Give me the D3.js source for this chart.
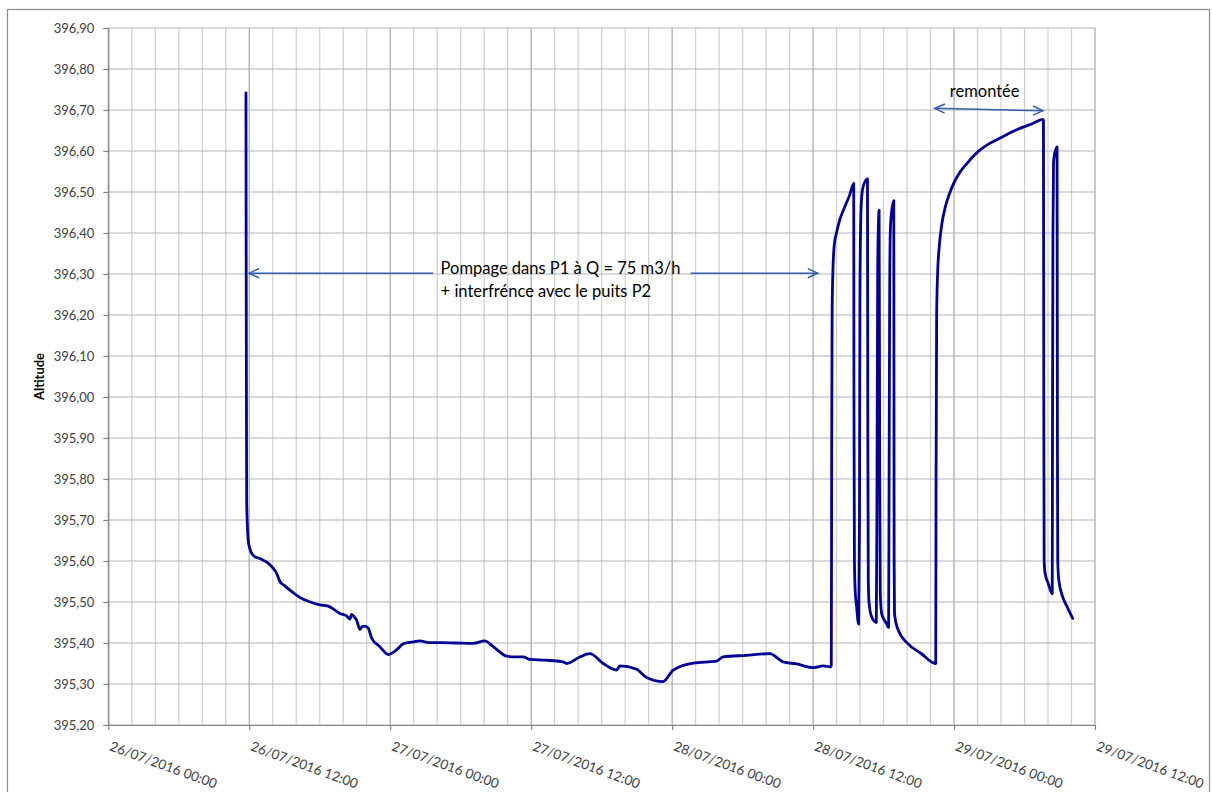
<!DOCTYPE html>
<html><head><meta charset="utf-8">
<script src="https://cdn.jsdelivr.net/npm/d3@7"></script>
<style>
html,body{margin:0;padding:0;background:#fff;}
svg{display:block;}
</style></head>
<body>
<svg id="chart" width="1212" height="792"></svg>
<script>
// ---- data (hours after 26/07/2016 00:00, altitude m) ----
const hours = [
 11.72,11.74,11.76,11.78,11.85,11.91,12.05,12.20,12.49,12.90,13.19,13.60,14.04,14.33,14.61,15.00,15.46,16.31,17.20,18.02,
 18.72,19.20,19.72,20.29,20.57,20.71,20.90,21.14,21.42,21.60,21.85,22.13,22.42,23.12,23.83,24.54,25.11,25.96,26.53,27.30,
 28.23,29.60,31.06,32.06,32.77,33.91,34.60,35.32,35.89,37.20,38.72,39.01,40.14,40.99,42.13,43.27,43.55,44.97,45.82,47.23,
 48.09,49.79,51.78,52.34,54.33,56.31,57.45,58.59,60.00,60.85,61.48,61.55,
 61.58,61.62,61.68,61.80,61.99,62.27,62.70,63.12,63.46,
 63.48,63.52,63.58,63.70,63.88,
 63.95,63.99,64.05,64.12,64.26,64.63,
 64.66,64.70,64.76,64.97,65.38,
 65.43,65.50,65.56,65.62,
 65.67,65.72,65.85,66.20,66.43,
 66.47,66.52,66.57,66.62,66.87,
 66.90,66.93,67.20,68.05,69.17,70.44,
 70.47,70.52,70.60,70.75,70.95,71.26,71.60,71.97,72.50,73.11,74.19,75.00,75.89,77.28,78.70,79.56,79.61,
 79.64,79.67,79.75,80.02,80.36,
 80.38,80.42,80.47,80.52,80.77,
 80.80,80.83,80.92,81.24,81.60,82.10
];
const altitude = [
 396.742,396.30,396.00,395.75,395.68,395.65,395.63,395.619,395.61,395.606,395.602,395.595,395.582,395.57,395.55,395.54,395.529,395.511,395.50,395.493,
 395.49,395.482,395.472,395.466,395.458,395.47,395.465,395.456,395.433,395.44,395.441,395.436,395.412,395.391,395.372,395.383,395.398,395.403,395.405,395.401,
 395.401,395.40,395.399,395.405,395.391,395.368,395.366,395.366,395.36,395.358,395.354,395.35,395.366,395.374,395.35,395.334,395.344,395.336,395.316,395.306,
 395.334,395.351,395.356,395.366,395.37,395.374,395.354,395.349,395.34,395.344,395.342,395.345,
 395.80,396.20,396.30,396.37,396.40,396.432,396.464,396.493,396.521,
 396.00,395.60,395.53,395.49,395.446,
 395.70,396.25,396.42,396.48,396.513,396.532,
 395.90,395.55,395.50,395.465,395.45,
 395.70,396.30,396.42,396.456,
 395.85,395.52,395.47,395.45,395.438,
 395.80,396.25,396.40,396.432,396.479,
 395.60,395.472,395.435,395.399,395.375,395.35,
 395.80,396.20,396.30,396.37,396.42,396.464,396.495,396.521,396.548,396.57,396.602,396.618,396.631,396.651,396.667,396.677,396.674,
 396.00,395.602,395.57,395.545,395.52,
 395.90,396.40,396.57,396.586,396.61,
 395.90,395.60,395.553,395.513,395.49,395.46
];

const xStart = "2016-07-26T00:00:00", xEnd = "2016-07-29T12:00:00";
const yTickValues = [395.20,395.30,395.40,395.50,395.60,395.70,395.80,395.90,396.00,396.10,396.20,396.30,396.40,396.50,396.60,396.70,396.80,396.90];
const yTitle = "Altitude";
const pumpLabel = ["Pompage dans P1 à Q = 75 m3/h", "+ interfrénce avec le puits P2"];
const recoveryLabel = "remontée";
// annotation anchors in data space: [hours, altitude]
const pumpArrowLeft = [[27.66, 396.302],[11.98, 396.302]];
const pumpArrowRight = [[49.57, 396.302],[60.40, 396.302]];
const pumpText = [28.29, 396.30];
const recoveryArrow = [[70.36, 396.704],[79.57, 396.698]];
const recoveryText = [74.61, 396.731];

// ---- layout ----
const svg = d3.select("#chart");
const pLeft = 108.3, pRight = 1095, pTop = 28, pBottom = 725;
const t0 = new Date(xStart);
const toDate = h => new Date(t0.getTime() + h*3600e3);

const x = d3.scaleTime().domain([new Date(xStart), new Date(xEnd)]).range([pLeft, pRight]);
const y = d3.scaleLinear().domain([395.2, 396.9]).range([pBottom, pTop]);

const font = "Lato, 'Liberation Sans', sans-serif";
const axisCol = "#868686";

// outer border
svg.append("rect").attr("x",7.5).attr("y",9.5).attr("width",1202).attr("height",800)
  .attr("fill","none").attr("stroke","#8c8c8c").attr("stroke-width",1.2);

// vertical gridlines every 2h
const endPlus = new Date(new Date(xEnd).getTime()+1);
const minorTimes = d3.timeHour.every(2).range(new Date(xStart), endPlus);
const majorTimes = d3.timeHour.every(12).range(new Date(xStart), endPlus);
svg.append("g").selectAll("line").data(minorTimes).join("line")
  .attr("x1",d=>x(d)).attr("x2",d=>x(d)).attr("y1",pTop).attr("y2",pBottom)
  .attr("stroke", d => d.getHours()%12===0 ? "#a6a6a6" : "#cfcfcf").attr("stroke-width",1.2);

// horizontal gridlines
svg.append("g").selectAll("line").data(yTickValues).join("line")
  .attr("x1",pLeft).attr("x2",pRight).attr("y1",d=>y(d)).attr("y2",d=>y(d))
  .attr("stroke","#b3b3b3").attr("stroke-width",1.2);

// y axis
const comma = d3.formatLocale({decimal:",", thousands:".", grouping:[3], currency:["","€"]}).format(".2f");
const yAxis = d3.axisLeft(y).tickValues(yTickValues).tickFormat(comma).tickSize(5).tickPadding(9);
const gy = svg.append("g").attr("transform",`translate(${pLeft},0)`).call(yAxis);
gy.select(".domain").attr("stroke",axisCol).attr("stroke-width",1.2);
gy.selectAll(".tick line").attr("stroke",axisCol).attr("stroke-width",1.2);
gy.selectAll(".tick text").attr("font-family",font).attr("font-size",13).attr("fill","#404040");

// x axis
const fmt = d3.timeFormat("%d/%m/%Y %H:%M");
const xAxis = d3.axisBottom(x).tickValues(majorTimes).tickFormat(fmt).tickSize(5).tickSizeOuter(0);
const gx = svg.append("g").attr("transform",`translate(0,${pBottom})`).call(xAxis);
gx.select(".domain").attr("stroke",axisCol).attr("stroke-width",1.2);
gx.selectAll(".tick line").attr("stroke",axisCol).attr("stroke-width",1.2);
gx.selectAll(".tick text").attr("font-family",font).attr("font-size",13.5).attr("fill","#404040")
  .attr("text-anchor","start").attr("dy",0).attr("y",0)
  .attr("transform","translate(0,25) rotate(20)");

// y title
svg.append("text").attr("transform",`translate(44,${(pTop+pBottom)/2}) rotate(-90)`)
  .attr("text-anchor","middle").attr("font-family",font).attr("font-weight","bold")
  .attr("font-size",13).attr("fill","#000").text(yTitle);

// data line
const pts = hours.map((h,i)=>[toDate(h), altitude[i]]);
svg.append("path").datum(pts)
  .attr("d", d3.line().curve(d3.curveMonotoneX).x(d=>x(d[0])).y(d=>y(d[1])))
  .attr("fill","none").attr("stroke","#000096").attr("stroke-width",2.8)
  .attr("stroke-linejoin","round").attr("stroke-linecap","round");

// annotations
const aCol = "#2f5fae";
function arrowHead(g, from, to){
  const a = Math.atan2(to[1]-from[1], to[0]-from[0]);
  const L = 11, w = 0.43;
  const p1 = [to[0]-L*Math.cos(a-w), to[1]-L*Math.sin(a-w)];
  const p2 = [to[0]-L*Math.cos(a+w), to[1]-L*Math.sin(a+w)];
  g.append("path").attr("d",`M${p1}L${to}L${p2}`).attr("fill","none")
    .attr("stroke",aCol).attr("stroke-width",1.5).attr("stroke-linejoin","miter");
}
function pix(p){ return [x(toDate(p[0])), y(p[1])]; }
const ga = svg.append("g");
[pumpArrowLeft, pumpArrowRight].forEach(seg=>{
  const a = pix(seg[0]), b = pix(seg[1]);
  ga.append("line").attr("x1",a[0]).attr("y1",a[1]).attr("x2",b[0]).attr("y2",b[1])
    .attr("stroke",aCol).attr("stroke-width",1.5);
  arrowHead(ga, a, b);
});
{
  const a = pix(recoveryArrow[0]), b = pix(recoveryArrow[1]);
  ga.append("line").attr("x1",a[0]).attr("y1",a[1]).attr("x2",b[0]).attr("y2",b[1])
    .attr("stroke",aCol).attr("stroke-width",1.5);
  arrowHead(ga, a, b); arrowHead(ga, b, a);
}
const pt = pix(pumpText);
const tt = svg.append("text").attr("x",pt[0]).attr("y",pt[1])
  .attr("font-family",font).attr("font-size",16.5).attr("fill","#000");
pumpLabel.forEach((s,i)=> tt.append("tspan").attr("x",pt[0]).attr("dy", i? 23 : 0).text(s));
const rt = pix(recoveryText);
svg.append("text").attr("x",rt[0]).attr("y",rt[1]).attr("text-anchor","middle")
  .attr("font-family",font).attr("font-size",16.5).attr("fill","#000").text(recoveryLabel);
</script>
</body></html>
